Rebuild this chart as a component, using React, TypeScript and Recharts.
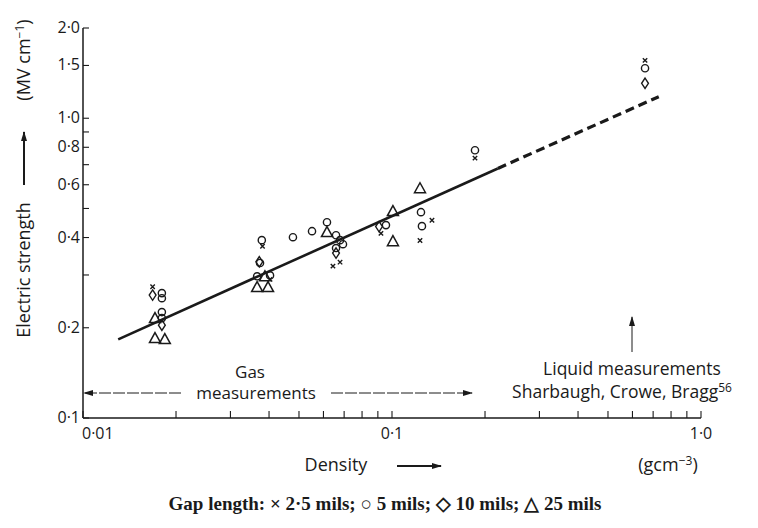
import { ScatterChart, Scatter, XAxis, YAxis } from "recharts";

// Axis ticks (log-log paper)
const xTicks = [0.01, 0.02, 0.03, 0.04, 0.05, 0.06, 0.07, 0.08, 0.09, 0.1, 0.2, 0.3, 0.4, 0.5, 0.6, 0.7, 0.8, 0.9, 1];
const xTickText: Record<string, string> = { "0.01": "0·01", "0.1": "0·1", "1": "1·0" };
const yTicks = [0.1, 0.2, 0.3, 0.4, 0.5, 0.6, 0.7, 0.8, 0.9, 1, 1.5, 2];
const yTickText: Record<string, string> = {
  "0.1": "0·1", "0.2": "0·2", "0.4": "0·4", "0.6": "0·6", "0.8": "0·8", "1": "1·0", "1.5": "1·5", "2": "2·0"
};

// × 2.5 mils
const crossDensity = [0.0168, 0.0381, 0.0403, 0.0644, 0.0679, 0.0921, 0.1232, 0.1347, 0.1856, 0.659];
const crossStrength = [0.274, 0.374, 0.29, 0.321, 0.331, 0.413, 0.391, 0.457, 0.736, 1.56];
// ○ 5 mils
const circleDensity = [0.018, 0.018, 0.018, 0.018, 0.0379, 0.0374, 0.0366, 0.0403, 0.0478, 0.0551, 0.0616, 0.0659, 0.0679, 0.0694, 0.0659, 0.0956, 0.1241, 0.125, 0.1856, 0.659];
const circleStrength = [0.261, 0.251, 0.2256, 0.2154, 0.392, 0.329, 0.297, 0.299, 0.401, 0.42, 0.45, 0.407, 0.392, 0.38, 0.369, 0.44, 0.486, 0.4365, 0.782, 1.468];
// ◇ 10 mils
const diamondDensity = [0.0168, 0.018, 0.0372, 0.0659, 0.0908, 0.659];
const diamondStrength = [0.257, 0.204, 0.332, 0.355, 0.435, 1.308];
// △ 25 mils
const triangleDensity = [0.0171, 0.0171, 0.0184, 0.0388, 0.0366, 0.0397, 0.0616, 0.1007, 0.1007, 0.1232];
const triangleStrength = [0.2154, 0.1848, 0.1834, 0.297, 0.2734, 0.2734, 0.417, 0.49, 0.389, 0.584];

// fitted line: measured part and extrapolation to the liquid
const fitDensity = [0.013, 0.22];
const fitStrength = [0.183, 0.68];
const extDensity = [0.22, 0.73];
const extStrength = [0.68, 1.18];

const pts = (xs: number[], ys: number[]) => xs.map((x, i) => ({ x, y: ys[i] }));

const INK = "#1a1a1a";
const FONT = "'Open Sans', sans-serif";

const Cross = ({ cx, cy }: any) => (
  <path d={`M${cx - 2.2},${cy - 2.2}L${cx + 2.2},${cy + 2.2}M${cx + 2.2},${cy - 2.2}L${cx - 2.2},${cy + 2.2}`} stroke={INK} strokeWidth={1.4} />
);
const Circle = ({ cx, cy }: any) => <circle cx={cx} cy={cy} r={3.6} fill="none" stroke={INK} strokeWidth={1.4} />;
const Diamond = ({ cx, cy }: any) => (
  <path d={`M${cx},${cy - 5.2}L${cx + 3.4},${cy}L${cx},${cy + 5.2}L${cx - 3.4},${cy}Z`} fill="none" stroke={INK} strokeWidth={1.4} />
);
const Triangle = ({ cx, cy }: any) => (
  <path d={`M${cx},${cy - 5.5}L${cx + 5.5},${cy + 4.5}L${cx - 5.5},${cy + 4.5}Z`} fill="none" stroke={INK} strokeWidth={1.5} />
);
const NoDot = () => <g />;

const XTick = ({ x, y, payload }: any) => {
  const t = xTickText[String(payload.value)];
  const first = payload.value === 0.01;
  return (
    <g>
      <line x1={x} x2={x} y1={y} y2={y - 7} stroke={INK} strokeWidth={1.1} />
      {t && (
        <text x={first ? x - 1 : x} y={y + 21} textAnchor={first ? "start" : "middle"} fontFamily={FONT} fontSize={16} fill={INK}>
          {t}
        </text>
      )}
    </g>
  );
};

const YTick = ({ x, y, payload }: any) => {
  const t = yTickText[String(payload.value)];
  return (
    <g>
      <line x1={x} x2={x + 6} y1={y} y2={y} stroke={INK} strokeWidth={1.1} />
      {t && (
        <text x={x - 3} y={y + 5} textAnchor="end" fontFamily={FONT} fontSize={16} fill={INK}>
          {t}
        </text>
      )}
    </g>
  );
};

export default function App() {
  return (
    <div style={{ position: "absolute", left: 0, top: 0, width: 758, height: 528, background: "#fff" }}>
      <ScatterChart width={758} height={528} margin={{ top: 28, right: 57, left: 43, bottom: 80 }}>
        <XAxis
          type="number"
          dataKey="x"
          scale="log"
          domain={[0.01, 1]}
          ticks={xTicks}
          interval={0}
          allowDataOverflow
          height={30}
          tickSize={0}
          tickMargin={0}
          tickLine={false}
          tick={<XTick />}
          axisLine={{ stroke: INK, strokeWidth: 1.5 }}
        />
        <YAxis
          type="number"
          dataKey="y"
          scale="log"
          domain={[0.1, 2]}
          ticks={yTicks}
          interval={0}
          allowDataOverflow
          width={40}
          tickSize={0}
          tickMargin={0}
          tickLine={false}
          tick={<YTick />}
          axisLine={{ stroke: INK, strokeWidth: 1.5 }}
        />
        <Scatter data={pts(fitDensity, fitStrength)} line={{ stroke: INK, strokeWidth: 2.6 }} shape={<NoDot />} isAnimationActive={false} />
        <Scatter
          data={pts(extDensity, extStrength)}
          line={{ stroke: INK, strokeWidth: 3.2, strokeDasharray: "9 5" }}
          shape={<NoDot />}
          isAnimationActive={false}
        />
        <Scatter data={pts(crossDensity, crossStrength)} shape={<Cross />} isAnimationActive={false} />
        <Scatter data={pts(circleDensity, circleStrength)} shape={<Circle />} isAnimationActive={false} />
        <Scatter data={pts(diamondDensity, diamondStrength)} shape={<Diamond />} isAnimationActive={false} />
        <Scatter data={pts(triangleDensity, triangleStrength)} shape={<Triangle />} isAnimationActive={false} />
      </ScatterChart>

      {/* titles and annotations */}
      <svg width={758} height={528} style={{ position: "absolute", left: 0, top: 0, pointerEvents: "none" }}>
        <defs>
          <marker id="head" viewBox="0 0 10 6" refX="9" refY="3" markerWidth="10" markerHeight="6" orient="auto" markerUnits="userSpaceOnUse">
            <path d="M0,0L10,3L0,6Z" fill={INK} />
          </marker>
        </defs>
        <g fontFamily={FONT} fill={INK}>
          <text transform="translate(30,270) rotate(-90)" textAnchor="middle" fontSize={18}>Electric strength</text>
          <line x1={24} y1={185} x2={24} y2={132} stroke={INK} strokeWidth={2} markerEnd="url(#head)" />
          <text transform="translate(30,60) rotate(-90)" textAnchor="middle" fontSize={18}>
            (MV cm<tspan dy={-6} fontSize={12}>−1</tspan><tspan dy={6}>)</tspan>
          </text>

          <text x={336} y={471} textAnchor="middle" fontSize={18}>Density</text>
          <line x1={397} y1={466} x2={441} y2={466} stroke={INK} strokeWidth={2} markerEnd="url(#head)" />
          <text x={668} y={471} textAnchor="middle" fontSize={18}>
            (gcm<tspan dy={-6} fontSize={12}>−3</tspan><tspan dy={6}>)</tspan>
          </text>

          <text x={250} y={378} textAnchor="middle" fontSize={17}>Gas</text>
          <text x={256} y={399} textAnchor="middle" fontSize={17}>measurements</text>
          <line x1={181} y1={393} x2={84} y2={393} stroke={INK} strokeWidth={1} strokeDasharray="12 2" markerEnd="url(#head)" />
          <line x1={331} y1={393} x2={472} y2={393} stroke={INK} strokeWidth={1} strokeDasharray="12 2" markerEnd="url(#head)" />

          <line x1={632} y1={352} x2={632} y2={317} stroke={INK} strokeWidth={1} markerEnd="url(#head)" />
          <text x={632} y={375} textAnchor="middle" fontSize={17.5}>Liquid measurements</text>
          <text x={622} y={398} textAnchor="middle" fontSize={17.5}>
            Sharbaugh, Crowe, Bragg<tspan dy={-6} fontSize={12}>56</tspan>
          </text>
        </g>
        <text x={385} y={510} textAnchor="middle" fontFamily="'Liberation Serif', serif" fontWeight="bold" fontSize={19} fill={INK}>
          Gap length: × 2·5 mils; ○ 5 mils; ◇ 10 mils; △ 25 mils
        </text>
      </svg>
    </div>
  );
}
